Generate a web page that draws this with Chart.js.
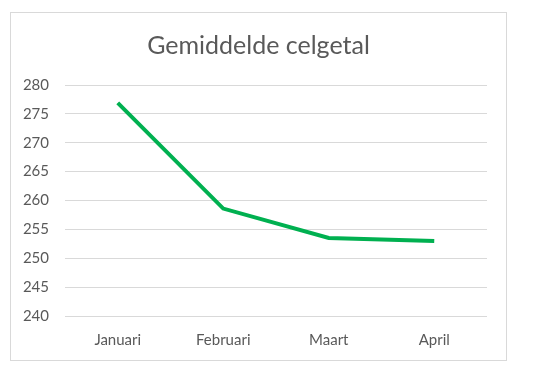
<!DOCTYPE html>
<html>
<head>
<meta charset="utf-8">
<script src="https://cdn.jsdelivr.net/npm/chart.js@4"></script>
<style>
  body { margin: 0; background: #fff; }
  #box {
    position: absolute; left: 10px; top: 12px;
    width: 497px; height: 349px;
    border: 1px solid #d9d9d9; box-sizing: border-box;
  }
</style>
</head>
<body>
<div id="box"><canvas id="chart"></canvas></div>
<script>
// data
const maanden = ['Januari', 'Februari', 'Maart', 'April'];
const celgetal = [276.9, 258.6, 253.5, 253.0];
const yTicks = [240, 245, 250, 255, 260, 265, 270, 275, 280];

// centre the title over the whole box, not only the padded part
const titleShift = {
    id: 'titleShift',
    afterLayout: function(chart) {
        if (chart.titleBlock) chart.titleBlock.left += 19;
    }
};

const ctx = document.getElementById('chart').getContext('2d');

new Chart(ctx, {
    type: 'line',
    data: {
        labels: maanden,
        datasets: [{
            label: 'Gemiddelde celgetal',
            data: celgetal,
            borderColor: '#00b050',
            borderWidth: 4,
            pointRadius: 0,
            tension: 0,
            fill: false
        }]
    },
    options: {
        responsive: true,
        maintainAspectRatio: false,
        animation: false,
        layout: { padding: { left: 0, right: 19, top: 0, bottom: 4 } },
        plugins: {
            legend: { display: false },
            tooltip: { enabled: false },
            title: {
                display: true,
                text: 'Gemiddelde celgetal',
                color: '#595959',
                font: { family: 'Lato', size: 25, weight: 'normal' },
                padding: { top: 18, bottom: 24 }
            }
        },
        scales: {
            x: {
                offset: true,
                grid: { display: false },
                border: { display: false },
                ticks: {
                    color: '#595959',
                    font: { family: 'Lato', size: 15 },
                    padding: 7
                }
            },
            y: {
                min: yTicks[0],
                max: yTicks[yTicks.length - 1],
                afterBuildTicks: axis => { axis.ticks = yTicks.map(v => ({ value: v })); },
                afterFit: axis => { axis.width = 54; },
                grid: { color: '#d9d9d9', drawTicks: false },
                border: { display: false },
                ticks: {
                    color: '#595959',
                    font: { family: 'Lato', size: 15 },
                    padding: 16
                }
            }
        }
    },
    plugins: [titleShift]
});
</script>
</body>
</html>
